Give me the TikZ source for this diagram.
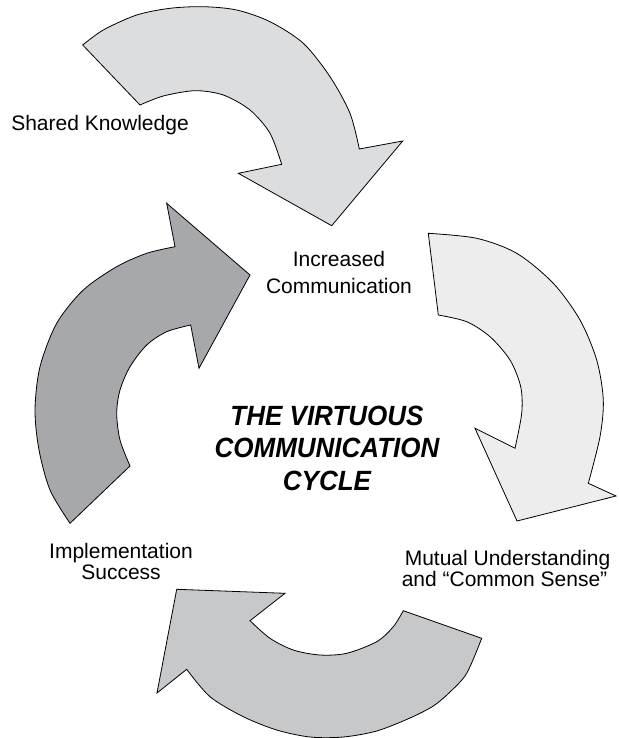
\documentclass[tikz,border=0pt]{standalone}
\usepackage{fontspec}
\setmainfont{Liberation Sans}
\begin{document}
\begin{tikzpicture}[x=1pt,y=-1pt,
  arrowshape/.style={draw=black,line width=0.8pt,line join=miter},
  lbl/.style={inner sep=0pt,anchor=base,font=\fontsize{21}{25}\selectfont},
  ttl/.style={inner sep=0pt,anchor=base,font=\fontsize{26}{30}\selectfont\bfseries\itshape}]
\useasboundingbox (0,0) rectangle (618,738);
\definecolor{aone}{HTML}{DCDDDF}
\definecolor{atwo}{HTML}{EDEDEE}
\definecolor{athree}{HTML}{C7C8CA}
\definecolor{afour}{HTML}{A7A8AB}
% top arrow
\draw[arrowshape,fill=aone] (82.7,45) -- (140,105)
  -- plot[smooth] coordinates {(140,105) (163.3,96) (195,90.7) (223.3,95) (250,110) (270,133.3) (281.7,164.3)}
  -- (238.3,173.3) -- (331.7,225.7) -- (402.7,141) -- (359.3,149)
  -- plot[smooth] coordinates {(359.3,149) (350,113.3) (330,76.7) (303.3,43.3) (270,21.7) (236.7,10) (203.3,6.7) (170,8.3) (136.7,15) (103.3,30) (82.7,45)}
  -- cycle;
% right arrow
\draw[arrowshape,fill=atwo] (428.3,233.3) -- (438.3,315)
  -- plot[smooth] coordinates {(438.3,315) (466.7,321.7) (490,336.7) (510,360) (520.7,386.7) (521.7,413.3) (515,448.3)}
  -- (475,428.3) -- (517,521) -- (616,496) -- (588.3,483.3)
  -- plot[smooth] coordinates {(588.3,483.3) (600,436.7) (603.3,400) (596.7,360) (580,320) (553.3,283.3) (516.7,253.3) (476.7,238.3) (428.3,233.3)}
  -- cycle;
% bottom arrow
\draw[arrowshape,fill=athree] (403.3,610.7) -- (481.7,638.3)
  -- plot[smooth] coordinates {(481.7,638.3) (466.7,673.3) (450,692) (433.3,706) (410,718) (376.7,731) (343.3,737) (310,737) (276.7,730) (243.3,716.7) (210,696.7) (186.7,669.3)}
  -- (157,693) -- (176.7,589.3) -- (285,593.3) -- (250,620.7)
  -- plot[smooth] coordinates {(250,620.7) (270,638.3) (293.3,650) (320,655) (346.7,653.3) (376.7,641.7) (393.3,626.7) (403.3,610.7)}
  -- cycle;
% left arrow
\draw[arrowshape,fill=afour] (70,523.3)
  -- plot[smooth] coordinates {(70,523.3) (50,490) (39,450) (35,410) (40,366.7) (56.7,323.3) (83.3,290) (116.7,266.7) (146.7,253.3) (175,246.7)}
  -- (166.7,203.3) -- (250,275) -- (199,368.3) -- (190.7,325)
  -- plot[smooth] coordinates {(190.7,325) (166.7,331.7) (146.7,345) (130,366.7) (120,390) (116.7,413.3) (120,440) (130,466)}
  -- cycle;
% labels
\node[lbl] (shared) at (100,131) {Shared Knowledge};
\node[lbl] (inc1) at (339,266.7) {Increased};
\node[lbl] (inc2) at (339,293.3) {Communication};
\node[lbl] (imp1) at (121,558.3) {Implementation};
\node[lbl] (imp2) at (121,579) {Success};
\node[lbl] (mut1) at (507.5,565) {Mutual Understanding};
\node[lbl] (mut2) at (504.5,586.5) {and “Common Sense”};
\node[ttl] (t1) at (327,425) {\scalebox{1}[1.07]{THE VIRTUOUS}};
\node[ttl] (t2) at (327,457) {\scalebox{1}[1.07]{COMMUNICATION}};
\node[ttl] (t3) at (327,490) {\scalebox{1}[1.07]{CYCLE}};
\end{tikzpicture}
\end{document}
